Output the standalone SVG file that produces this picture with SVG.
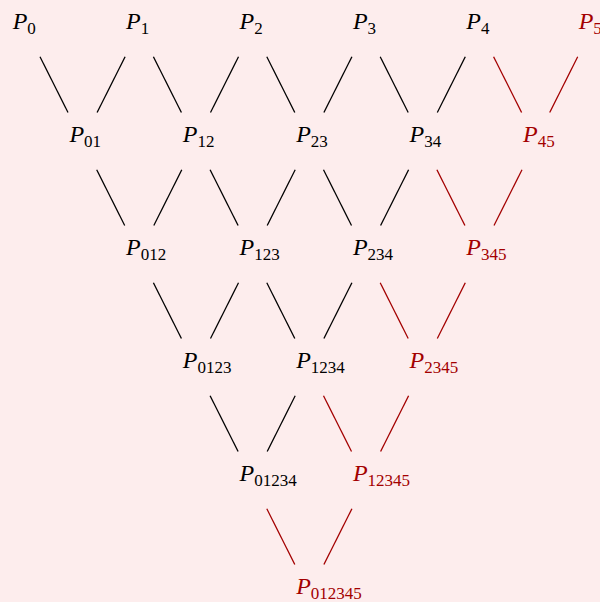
<svg xmlns="http://www.w3.org/2000/svg" width="600" height="602" viewBox="0 0 600 602">
<style>
text{font-family:"Liberation Serif","Times New Roman",serif;font-size:24px;fill:#000}
.p{font-style:italic}
.s{font-size:17px;font-style:normal}
.r text,text.r{fill:#a30000}
.c line{stroke:#000;stroke-width:1.3}
.c line.r{stroke:#a30000}
</style>
<rect width="600" height="602" fill="#fdeded"/>
<g class="c" id="connectors">
<line x1="40" y1="56.7" x2="68" y2="112.5"/><line x1="125.1" y1="56.7" x2="97.1" y2="112.5"/>
<line x1="153.4" y1="56.7" x2="181.4" y2="112.5"/><line x1="238.5" y1="56.7" x2="210.5" y2="112.5"/>
<line x1="266.8" y1="56.7" x2="294.8" y2="112.5"/><line x1="351.9" y1="56.7" x2="323.9" y2="112.5"/>
<line x1="380.2" y1="56.7" x2="408.2" y2="112.5"/><line x1="465.3" y1="56.7" x2="437.3" y2="112.5"/>
<line class="r" x1="493.6" y1="56.7" x2="521.6" y2="112.5"/><line class="r" x1="577.7" y1="56.7" x2="549.7" y2="112.5"/>
<line x1="96.7" y1="169.7" x2="124.7" y2="225.5"/><line x1="181.8" y1="169.7" x2="153.8" y2="225.5"/>
<line x1="210.1" y1="169.7" x2="238.1" y2="225.5"/><line x1="295.2" y1="169.7" x2="267.2" y2="225.5"/>
<line x1="323.5" y1="169.7" x2="351.5" y2="225.5"/><line x1="408.6" y1="169.7" x2="380.6" y2="225.5"/>
<line class="r" x1="436.9" y1="169.7" x2="464.9" y2="225.5"/><line class="r" x1="522" y1="169.7" x2="494" y2="225.5"/>
<line x1="153.4" y1="282.7" x2="181.4" y2="338.5"/><line x1="238.5" y1="282.7" x2="210.5" y2="338.5"/>
<line x1="266.8" y1="282.7" x2="294.8" y2="338.5"/><line x1="351.9" y1="282.7" x2="323.9" y2="338.5"/>
<line class="r" x1="380.2" y1="282.7" x2="408.2" y2="338.5"/><line class="r" x1="465.3" y1="282.7" x2="437.3" y2="338.5"/>
<line x1="210.1" y1="395.7" x2="238.1" y2="451.5"/><line x1="295.2" y1="395.7" x2="267.2" y2="451.5"/>
<line class="r" x1="323.5" y1="395.7" x2="351.5" y2="451.5"/><line class="r" x1="408.6" y1="395.7" x2="380.6" y2="451.5"/>
<line class="r" x1="266.8" y1="508.7" x2="294.8" y2="564.5"/><line class="r" x1="351.9" y1="508.7" x2="323.9" y2="564.5"/>
</g>
<g id="P0"><text x="12.7" y="28.5"><tspan class="p">P</tspan><tspan class="s" dy="5">0</tspan></text></g>
<g id="P1"><text x="126.1" y="28.5"><tspan class="p">P</tspan><tspan class="s" dy="5">1</tspan></text></g>
<g id="P2"><text x="239.5" y="28.5"><tspan class="p">P</tspan><tspan class="s" dy="5">2</tspan></text></g>
<g id="P3"><text x="352.9" y="28.5"><tspan class="p">P</tspan><tspan class="s" dy="5">3</tspan></text></g>
<g id="P4"><text x="466.3" y="28.5"><tspan class="p">P</tspan><tspan class="s" dy="5">4</tspan></text></g>
<g id="P5" class="r"><text x="578.7" y="28.5"><tspan class="p">P</tspan><tspan class="s" dy="5">5</tspan></text></g>
<g id="P01"><text x="69.4" y="141.5"><tspan class="p">P</tspan><tspan class="s" dy="5">01</tspan></text></g>
<g id="P12"><text x="182.8" y="141.5"><tspan class="p">P</tspan><tspan class="s" dy="5">12</tspan></text></g>
<g id="P23"><text x="296.2" y="141.5"><tspan class="p">P</tspan><tspan class="s" dy="5">23</tspan></text></g>
<g id="P34"><text x="409.6" y="141.5"><tspan class="p">P</tspan><tspan class="s" dy="5">34</tspan></text></g>
<g id="P45" class="r"><text x="523" y="141.5"><tspan class="p">P</tspan><tspan class="s" dy="5">45</tspan></text></g>
<g id="P012"><text x="126.1" y="254.5"><tspan class="p">P</tspan><tspan class="s" dy="5">012</tspan></text></g>
<g id="P123"><text x="239.5" y="254.5"><tspan class="p">P</tspan><tspan class="s" dy="5">123</tspan></text></g>
<g id="P234"><text x="352.9" y="254.5"><tspan class="p">P</tspan><tspan class="s" dy="5">234</tspan></text></g>
<g id="P345" class="r"><text x="466.3" y="254.5"><tspan class="p">P</tspan><tspan class="s" dy="5">345</tspan></text></g>
<g id="P0123"><text x="182.8" y="367.5"><tspan class="p">P</tspan><tspan class="s" dy="5">0123</tspan></text></g>
<g id="P1234"><text x="296.2" y="367.5"><tspan class="p">P</tspan><tspan class="s" dy="5">1234</tspan></text></g>
<g id="P2345" class="r"><text x="409.6" y="367.5"><tspan class="p">P</tspan><tspan class="s" dy="5">2345</tspan></text></g>
<g id="P01234"><text x="239.5" y="480.5"><tspan class="p">P</tspan><tspan class="s" dy="5">01234</tspan></text></g>
<g id="P12345" class="r"><text x="352.9" y="480.5"><tspan class="p">P</tspan><tspan class="s" dy="5">12345</tspan></text></g>
<g id="P012345" class="r"><text x="296.2" y="593.5"><tspan class="p">P</tspan><tspan class="s" dy="5">012345</tspan></text></g>
</svg>
